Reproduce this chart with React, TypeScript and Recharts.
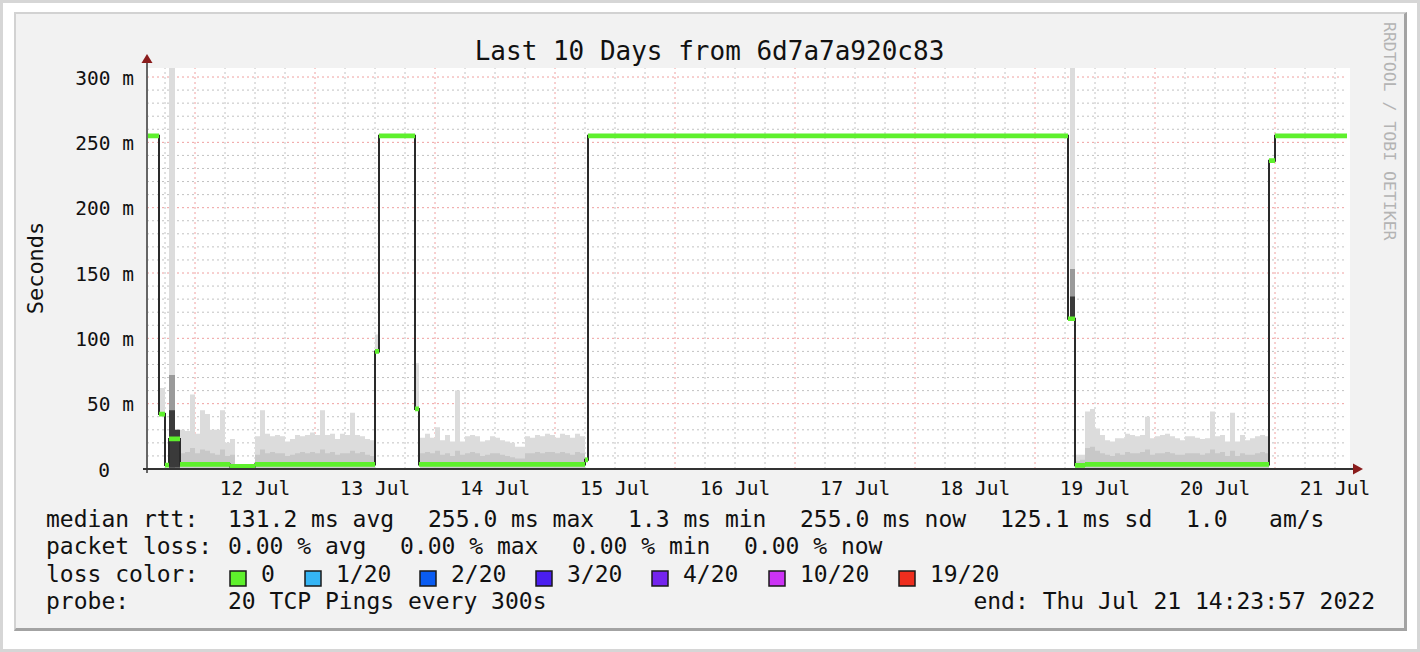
import React from 'react';
import { ComposedChart, Area, Line, XAxis, YAxis, ReferenceLine } from 'recharts';

const MONO = '"DejaVu Sans Mono", "Liberation Mono", monospace';

// time axis in hours since 11 Jul 00:00 (10 days ending 21 Jul 14:24)
const T_START = 14.4;
const T_END = 254.4;
const Y_MAX = 306.9;

const dayTicks = [36, 60, 84, 108, 132, 156, 180, 204, 228, 252];
const dayLabels = ['12 Jul', '13 Jul', '14 Jul', '15 Jul', '16 Jul', '17 Jul', '18 Jul', '19 Jul', '20 Jul', '21 Jul'];
const midnightLines = [24, 48, 72, 96, 120, 144, 168, 192, 216, 240];
const sixHourLines = [18, 30, 36, 42, 54, 60, 66, 78, 84, 90, 102, 108, 114, 126, 132, 138, 150, 156, 162, 174, 180, 186, 198, 204, 210, 222, 228, 234, 246, 252];
const yLabelTicks = [0, 50, 100, 150, 200, 250, 300];
const yMajorLines = [50, 100, 150, 200, 250, 300];
const yMinorLines = [10, 20, 30, 40, 60, 70, 80, 90, 110, 120, 130, 140, 160, 170, 180, 190, 210, 220, 230, 240, 260, 270, 280, 290];

// median rtt (ms): value holds from each start time until the next one
const medianStart = [14.4, 16.8, 18, 18.8, 21, 31, 36, 60, 60.8, 68, 68.8, 102, 102.6, 198.6, 200, 202, 238.8, 240];
const medianMs = [255, 42, 3, 23, 3.5, 2, 3.5, 90, 255, 46, 3.5, 7, 255, 115, 2.8, 3.5, 236, 255];

// smoke in the quiet periods, one bin per hour (upper edge / inner band, ms)
const quiet1Start = 21;
const quiet1End = 60;
const quiet1Top = [30, 29, 57, 27, 45, 42, 30, 30, 45, 20, 23, 0, 0, 0, 0, 25, 45, 27, 25, 26, 25, 21, 23, 26, 25, 26, 28, 26, 45, 26, 27, 23, 27, 26, 43, 26, 25, 23, 22];
const quiet1Mid = [12, 13, 16, 12, 15, 14, 12, 11, 15, 10, 11, 0, 0, 0, 0, 11, 15, 12, 13, 12, 12, 10, 11, 12, 13, 12, 13, 12, 15, 12, 13, 11, 12, 12, 14, 12, 13, 11, 10];

const quiet2Start = 69;
const quiet2End = 102;
const quiet2Top = [24, 27, 24, 32, 22, 26, 21, 60, 21, 25, 26, 25, 21, 22, 25, 24, 22, 21, 20, 17, 17, 25, 24, 26, 25, 27, 26, 24, 27, 26, 24, 27, 25];
const quiet2Mid = [12, 13, 12, 14, 11, 12, 10, 14, 11, 12, 13, 12, 10, 11, 12, 12, 11, 10, 9, 8, 8, 12, 12, 13, 12, 13, 13, 12, 13, 12, 11, 13, 12];

const quiet3Start = 200;
const quiet3End = 238.8;
const quiet3Top = [11, 11, 44, 46, 31, 26, 22, 21, 23.5, 23.5, 27, 26, 25, 26, 40, 23.5, 25, 26, 27, 25, 23.5, 22, 25, 25, 24, 23, 23.5, 44, 25, 26, 21, 43, 21, 26, 22, 23.5, 25, 26, 25];
const quiet3Mid = [6, 7, 16, 17, 14, 12, 11, 10, 12, 11, 13, 12, 12, 13, 15, 11, 12, 12, 13, 12, 11, 11, 12, 12, 12, 11, 12, 15, 12, 13, 10, 14, 10, 12, 11, 11, 12, 13, 12];

// smoke bursts around the level changes
const burstStart = [16.8, 18.8, 20, 60, 68, 199];
const burstEnd = [18, 20, 21, 60.8, 68.8, 200];
const burstLow = [42, 1, 1, 90, 46, 114];
const burstTop = [62, 306.9, 30, 103, 81, 306.9];
const burstMid = [0, 72, 0, 0, 0, 153];
const burstCore = [0, 45, 30, 0, 0, 132];

// legend
const lossLabels = ['0', '1/20', '2/20', '3/20', '4/20', '10/20', '19/20'];
const lossColors = ['#5ef02c', '#35b5f5', '#0a5cf2', '#4a1ef0', '#7424ee', '#cc33f5', '#ee2e1e'];
const lossBoxX = [230, 305, 420, 536, 652, 769, 899];
const rttItems = ['median rtt:', '131.2 ms avg', '255.0 ms max', '1.3 ms min', '255.0 ms now', '125.1 ms sd', '1.0   am/s'];
const rttX = [46, 228, 428, 628, 800, 1000, 1186];
const lossItems = ['packet loss:', '0.00 % avg', '0.00 % max', '0.00 % min', '0.00 % now'];
const lossX = [46, 228, 400, 572, 744];

const EPS = 1e-6;
const BAND = 1.8; // half height of the loss-coloured median band (ms)
const quietStarts = [quiet1Start, quiet2Start, quiet3Start];
const quietEnds = [quiet1End, quiet2End, quiet3End];
const quietTops = [quiet1Top, quiet2Top, quiet3Top];
const quietMids = [quiet1Mid, quiet2Mid, quiet3Mid];

function medianAt(t: number) {
  let v = medianMs[0];
  medianStart.forEach((s, i) => { if (s <= t + EPS) v = medianMs[i]; });
  return v;
}

function burstAt(t: number) {
  for (let i = 0; i < burstStart.length; i++) {
    if (t >= burstStart[i] - EPS && t < burstEnd[i] - EPS) return i;
  }
  return -1;
}

function quietAt(t: number): [number, number] | null {
  for (let s = 0; s < quietStarts.length; s++) {
    if (t >= quietStarts[s] - EPS && t < quietEnds[s] - EPS) {
      const k = Math.floor(t - quietStarts[s] + EPS);
      return [quietTops[s][k], quietMids[s][k]];
    }
  }
  return null;
}

function buildRows() {
  const pts: number[] = [T_START, T_END, ...medianStart, ...burstStart, ...burstEnd];
  quietStarts.forEach((s, i) => {
    quietTops[i].forEach((_, k) => pts.push(Math.min(s + k, quietEnds[i])));
    pts.push(quietEnds[i]);
  });
  const uniq = Array.from(new Set(pts.map((p) => Math.round(p * 1000) / 1000))).sort((a, b) => a - b);
  return uniq.map((t) => {
    const med = medianAt(t);
    const b = burstAt(t);
    const q = quietAt(t);
    const none: [number, number] = [0, 0];
    let outer = none;
    let mid = none;
    let dark = none;
    let core = none;
    if (b >= 0) {
      outer = [burstLow[b], burstTop[b]];
      if (burstMid[b] > 0) dark = [burstLow[b], burstMid[b]];
      if (burstCore[b] > 0) core = [burstLow[b], burstCore[b]];
    } else if (q && q[0] > 0) {
      outer = [1, q[0]];
      mid = [1, q[1]];
    }
    return { t, med, band: [Math.max(0, med - BAND), med + BAND], outer, mid, dark, core };
  });
}

const rows = buildRows();

const XTick = (props: any) => {
  const i = dayTicks.indexOf(props.payload.value);
  return (
    <text x={props.x} y={495} textAnchor="middle" fontFamily={MONO} fontSize={19.5} fill="#111">
      {dayLabels[i]}
    </text>
  );
};

const YTick = (props: any) => {
  const v = props.payload.value;
  return (
    <text x={v === 0 ? 110 : 134} y={props.y + 7.5} textAnchor="end" fontFamily={MONO} fontSize={19.5} fill="#111">
      {v === 0 ? '0' : `${v} m`}
    </text>
  );
};

export default function App() {
  const gridGray = '#c2c2c2';
  const gridRed = '#efa0a0';
  return (
    <div style={{ position: 'absolute', left: 0, top: 0, width: 1420, height: 652, background: '#fff', overflow: 'hidden' }}>
      <div style={{ position: 'absolute', left: 0, top: 0, width: 1420, height: 652, boxSizing: 'border-box', border: '3px solid #d6d6d6' }} />
      <div
        style={{
          position: 'absolute', left: 14, top: 12, width: 1393, height: 619, boxSizing: 'border-box', background: '#f2f2f2',
          borderTop: '2px solid #d2d2d2', borderLeft: '2px solid #d2d2d2', borderRight: '3px solid #a3a3a3', borderBottom: '3px solid #a3a3a3',
        }}
      />
      <div style={{ position: 'absolute', left: 147, top: 68, width: 1203, height: 401, background: '#fff' }} />
      <div style={{ position: 'absolute', left: 0, top: 0 }}>
        <ComposedChart width={1420} height={652} data={rows} margin={{ top: 68, right: 73, bottom: 143, left: 67 }}>
          {yMinorLines.map((v) => (
            <ReferenceLine key={`ym${v}`} y={v} stroke={gridGray} strokeDasharray="2 3" zIndex={-50} />
          ))}
          {sixHourLines.map((v) => (
            <ReferenceLine key={`xm${v}`} x={v} stroke={gridGray} strokeDasharray="2 3" zIndex={-50} />
          ))}
          {yMajorLines.map((v) => (
            <ReferenceLine key={`yM${v}`} y={v} stroke={gridRed} strokeDasharray="2 3" zIndex={-40} />
          ))}
          {midnightLines.map((v) => (
            <ReferenceLine key={`xM${v}`} x={v} stroke={gridRed} strokeDasharray="2 3" zIndex={-40} />
          ))}
          <XAxis dataKey="t" type="number" domain={[T_START, T_END]} ticks={dayTicks} interval={0} height={40}
            axisLine={false} tickLine={false} tick={<XTick />} allowDataOverflow />
          <YAxis type="number" domain={[0, Y_MAX]} ticks={yLabelTicks} interval={0} width={80}
            axisLine={false} tickLine={false} tick={<YTick />} allowDataOverflow />
          <Area dataKey="outer" type="stepAfter" fill="#dcdcdc" fillOpacity={1} stroke="none" isAnimationActive={false} activeDot={false} />
          <Area dataKey="mid" type="stepAfter" fill="#c8c8c8" fillOpacity={1} stroke="none" isAnimationActive={false} activeDot={false} />
          <Area dataKey="dark" type="stepAfter" fill="#9a9a9a" fillOpacity={1} stroke="none" isAnimationActive={false} activeDot={false} />
          <Area dataKey="core" type="stepAfter" fill="#3a3a3a" fillOpacity={1} stroke="none" isAnimationActive={false} activeDot={false} />
          <Line dataKey="med" type="stepAfter" stroke="#2a2a2a" strokeWidth={2} dot={false} activeDot={false} isAnimationActive={false} zIndex={150} />
          <Area dataKey="band" type="stepAfter" fill={lossColors[0]} fillOpacity={1} stroke="none" isAnimationActive={false} activeDot={false} zIndex={200} />
        </ComposedChart>
      </div>
      <svg width={1420} height={652} style={{ position: 'absolute', left: 0, top: 0, pointerEvents: 'none' }} fontFamily={MONO}>
        <line x1={147} y1={61} x2={147} y2={473} stroke="#666" strokeWidth={2} />
        <line x1={143} y1={469} x2={1354} y2={469} stroke="#333" strokeWidth={2} />
        <polygon points="141.5,63 152.5,63 147,54" fill="#8a1c1c" />
        <polygon points="1353,463.5 1353,474.5 1363,469" fill="#8a1c1c" />
        <text x={709.5} y={60} textAnchor="middle" fontSize={26} fill="#111">Last 10 Days from 6d7a7a920c83</text>
        <text x={43} y={268} textAnchor="middle" fontSize={22} fill="#111" transform="rotate(-90 43 268)">Seconds</text>
        <text x={1384} y={22} fontSize={16.5} fill="#b4b4b4" transform="rotate(90 1384 22)">RRDTOOL / TOBI OETIKER</text>
        {rttItems.map((s, i) => (
          <text key={`r${i}`} x={rttX[i]} y={527} fontSize={23} fill="#111" style={{ whiteSpace: 'pre' }}>{s}</text>
        ))}
        {lossItems.map((s, i) => (
          <text key={`l${i}`} x={lossX[i]} y={554} fontSize={23} fill="#111" style={{ whiteSpace: 'pre' }}>{s}</text>
        ))}
        <text x={46} y={581.5} fontSize={23} fill="#111">loss color:</text>
        {lossLabels.map((s, i) => (
          <g key={`c${i}`}>
            <rect x={lossBoxX[i]} y={571} width={16} height={15} fill={lossColors[i]} stroke="#1a1a1a" strokeWidth={1.5} />
            <text x={lossBoxX[i] + 31} y={581.5} fontSize={23} fill="#111">{s}</text>
          </g>
        ))}
        <text x={46} y={608.5} fontSize={23} fill="#111">probe:</text>
        <text x={228} y={608.5} fontSize={23} fill="#111">20 TCP Pings every 300s</text>
        <text x={1375} y={608.5} textAnchor="end" fontSize={23} fill="#111">end: Thu Jul 21 14:23:57 2022</text>
      </svg>
    </div>
  );
}
